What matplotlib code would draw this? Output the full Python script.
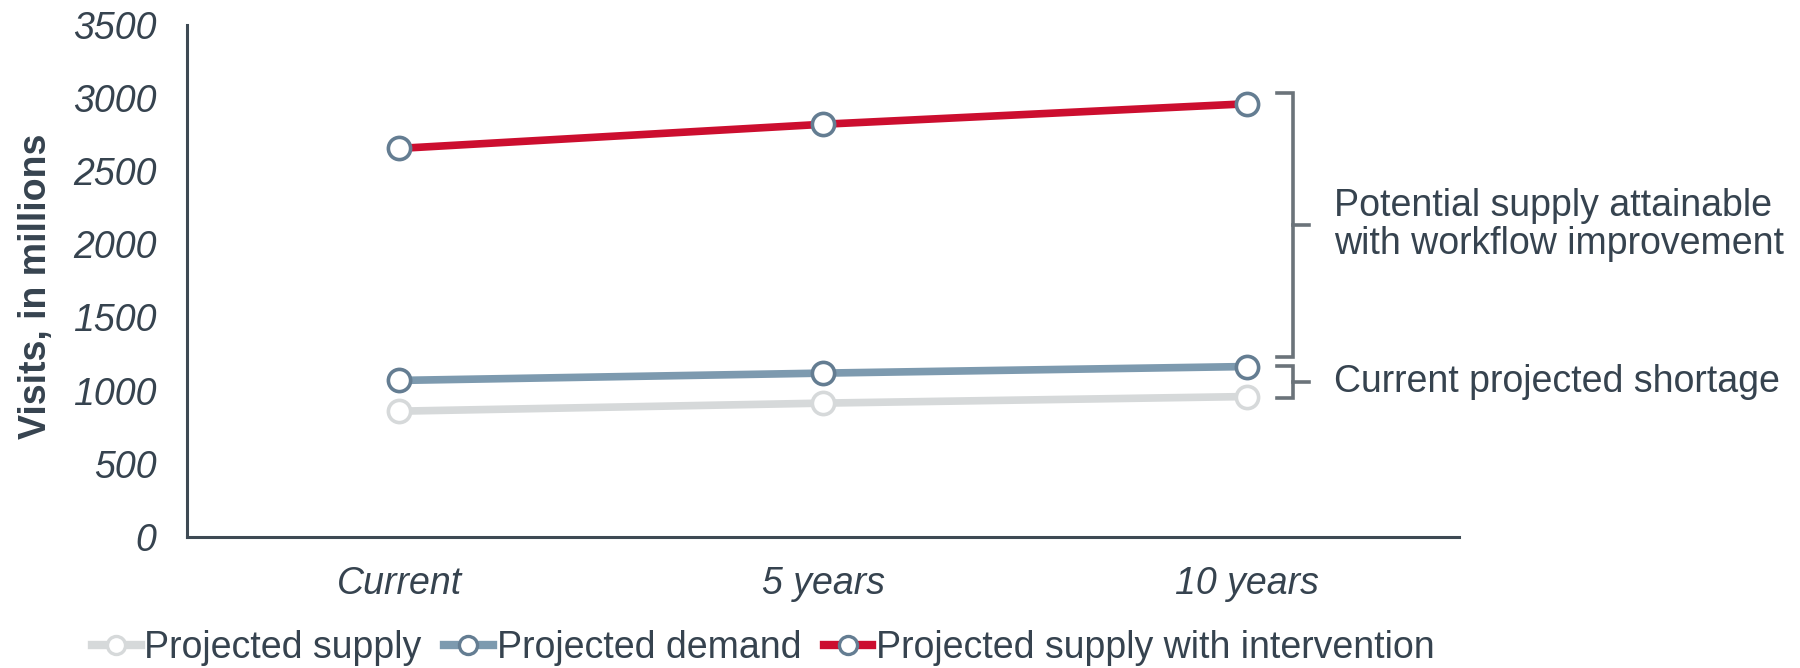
import matplotlib
matplotlib.use("Agg")
import matplotlib.pyplot as plt
from matplotlib.lines import Line2D

plt.rcParams["font.family"] = ["Liberation Sans", "DejaVu Sans"]

# data
categories = ["Current", "5 years", "10 years"]
supply = [860, 915, 960]
demand = [1070, 1120, 1165]
intervention = [2655, 2820, 2960]
y_ticks = [0, 500, 1000, 1500, 2000, 2500, 3000, 3500]

# bracket spans (top, bottom) in visits
bracket_potential = [3035, 1230]
bracket_shortage = [1169, 950]

txt = "#36434F"
red = "#CC0E2F"
blue = "#7D9AAF"
grey = "#D6D9DA"
edge = "#647D92"
brk = "#6B737A"
fs = 27

fig = plt.figure(figsize=(18, 6.68), dpi=100)
ax = fig.add_axes([0.104, 0.196, 0.7066, 0.767])

x = list(range(len(categories)))
ax.plot(x, supply, color=grey, lw=5.5, marker="o", ms=16, mfc="white",
        mec=grey, mew=2.6, solid_capstyle="butt", zorder=3)
ax.plot(x, demand, color=blue, lw=5.5, marker="o", ms=16, mfc="white",
        mec=edge, mew=2.6, solid_capstyle="butt", zorder=3)
ax.plot(x, intervention, color=red, lw=5.5, marker="o", ms=16, mfc="white",
        mec=edge, mew=2.6, solid_capstyle="butt", zorder=3)

ax.set_xlim(-0.5, 2.5)
ax.set_ylim(0, 3500)
ax.set_xticks(x)
ax.set_xticklabels(categories, fontsize=fs, style="italic", color=txt)
ax.set_yticks(y_ticks)
ax.set_yticklabels([str(v) for v in y_ticks], fontsize=fs, style="italic", color=txt)
ax.tick_params(length=0, pad=22)
ax.tick_params(axis="x", pad=21)

for s in ["top", "right"]:
    ax.spines[s].set_visible(False)
for s in ["left", "bottom"]:
    ax.spines[s].set_color("#3E4A54")
    ax.spines[s].set_linewidth(2.2)

ax.set_ylabel("Visits, in millions", fontsize=fs, fontweight="bold", color=txt)
ax.yaxis.set_label_coords(-0.105, 0.49)

# brackets on the right
bx, tip, mid = 2.109, 2.07, 2.146


def bracket(top, bot):
    ax.plot([tip, bx, bx, tip], [top, top, bot, bot], color=brk, lw=2.6,
            clip_on=False, solid_joinstyle="miter")
    m = (top + bot) / 2
    ax.plot([bx, mid], [m, m], color=brk, lw=2.6, clip_on=False)
    return m


m1 = bracket(*bracket_potential)
m2 = bracket(*bracket_shortage)
ax.text(2.205, m1, "Potential supply attainable\nwith workflow improvement",
        fontsize=fs, color=txt, va="center", ha="left", linespacing=1.1)
ax.text(2.205, m2, "Current projected shortage", fontsize=fs, color=txt,
        va="center", ha="left")

handles = [
    Line2D([], [], color=grey, lw=6, marker="o", ms=13, mfc="white", mec=grey, mew=2.4),
    Line2D([], [], color=blue, lw=6, marker="o", ms=13, mfc="white", mec=edge, mew=2.4),
    Line2D([], [], color=red, lw=6, marker="o", ms=13, mfc="white", mec=edge, mew=2.4),
]
labels = ["Projected supply", "Projected demand", "Projected supply with intervention"]
leg = fig.legend(handles, labels, loc="center", bbox_to_anchor=(0.424, 0.03),
                 ncol=3, frameon=False, fontsize=fs, handlelength=1.3,
                 handletextpad=0.1, columnspacing=0.6)
for t in leg.get_texts():
    t.set_color(txt)

fig.savefig("out.png", dpi=100)
